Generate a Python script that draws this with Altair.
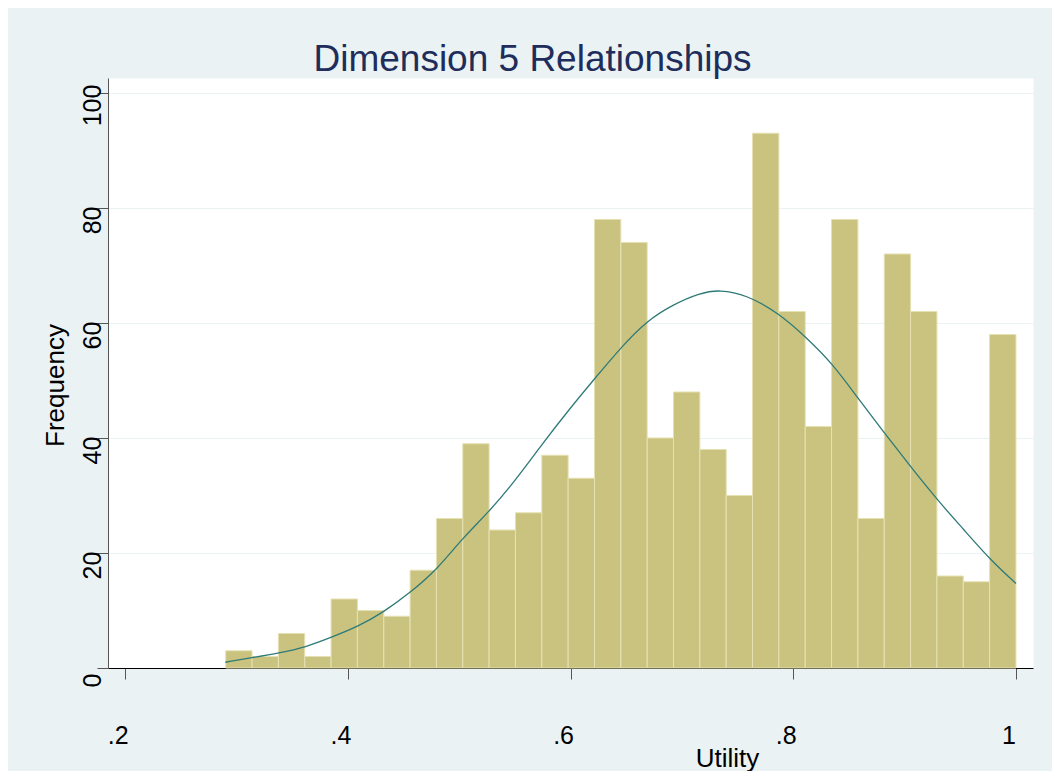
import altair as alt
import numpy as np
import pandas as pd

# Histogram counts (30 equal-width bins)
counts = [3, 2, 6, 2, 12, 10, 9, 17, 26, 39, 24, 27, 37, 33, 78,
          74, 40, 48, 38, 30, 93, 62, 42, 78, 26, 72, 62, 16, 15, 58]
bin_lo = 0.2903
bin_hi = 1.0

# Overlaid normal-density curve
curve_x = [0.290, 0.314, 0.338, 0.362, 0.386, 0.409, 0.432, 0.456, 0.480, 0.503,
           0.527, 0.550, 0.574, 0.598, 0.622, 0.646, 0.668, 0.692, 0.716, 0.734,
           0.758, 0.787, 0.811, 0.835, 0.857, 0.881, 0.905, 0.929, 0.953, 0.977, 1.000]
curve_y = [1.0, 1.8, 2.6, 3.6, 5.4, 7.2, 9.7, 13.1, 17.1, 22.6,
           27.2, 32.5, 38.8, 44.8, 50.4, 55.9, 60.3, 63.2, 65.2, 65.8,
           64.9, 61.7, 57.6, 53.0, 47.2, 41.1, 35.1, 29.3, 24.1, 18.8, 14.7]

x_ticks = [0.2, 0.4, 0.6, 0.8, 1.0]
y_ticks = [0, 20, 40, 60, 80, 100]

edges = np.linspace(bin_lo, bin_hi, len(counts) + 1)
bars_df = pd.DataFrame({"x0": edges[:-1], "x1": edges[1:], "count": counts})
curve_df = pd.DataFrame({"x": curve_x, "y": curve_y})

FONT = "Liberation Sans"
xscale = alt.Scale(domain=[0.1846, 1.0153], nice=False, zero=False)
yscale = alt.Scale(domain=[0, 102.6], nice=False, zero=True)

x_axis = alt.Axis(
    values=x_ticks,
    labelExpr="replace(format(datum.value, '.1~f'), '0.', '.')",
    labelFont=FONT, labelFontSize=25, labelColor="#000000",
    labelPadding=64, labelBaseline="alphabetic", labelAlign="center",
    labelOffset=-7.5, labelFlush=False,
    tickSize=11, tickColor="#555555", tickWidth=1,
    domainColor="#000000", domainWidth=1,
    grid=False,
    title="Utility", titleFont=FONT, titleFontSize=26, titleFontWeight="normal",
    titleColor="#000000", titleX=619, titleY=98, titleBaseline="alphabetic",
    titleAlign="center",
)

y_axis = alt.Axis(
    values=y_ticks,
    labelFont=FONT, labelFontSize=25, labelColor="#000000",
    labelAngle=270, labelAlign="center", labelBaseline="alphabetic",
    labelPadding=-3, labelOffset=12, labelFlush=False,
    tickSize=11, tickColor="#555555", tickWidth=1,
    domainColor="#555555", domainWidth=1,
    grid=True, gridColor="#eaf2f3", gridWidth=1,
    title="Frequency", titleFont=FONT, titleFontSize=26, titleFontWeight="normal",
    titleColor="#000000", titleAngle=270, titleX=-45, titleY=307,
    titleBaseline="alphabetic", titleAlign="center",
)

bars = alt.Chart(bars_df).mark_rect(
    color="#cac380", stroke="#e6e1b3", strokeWidth=1
).encode(
    x=alt.X("x0:Q", scale=xscale, axis=x_axis),
    x2="x1:Q",
    y=alt.Y("count:Q", scale=yscale, axis=y_axis),
    y2=alt.datum(0),
)

curve = alt.Chart(curve_df).mark_line(
    color="#2e7a77", strokeWidth=1.3, interpolate="basis"
).encode(
    x=alt.X("x:Q", scale=xscale),
    y=alt.Y("y:Q", scale=yscale),
)

chart = alt.layer(bars, curve).properties(
    width=925,
    height=590,
    background="#eaf2f3",
    padding={"left": 100, "top": 70, "right": 19, "bottom": 103},
    autosize=alt.AutoSizeParams(type="none"),
    title=alt.TitleParams(
        "Dimension 5 Relationships",
        font=FONT, fontSize=37, fontWeight="normal", color="#1f2d5c",
        anchor="middle", dx=-38, dy=35, baseline="alphabetic", offset=5,
    ),
).configure_view(fill="white", stroke="transparent")

chart.save("out.html", embed_options={"renderer": "svg", "actions": False})
